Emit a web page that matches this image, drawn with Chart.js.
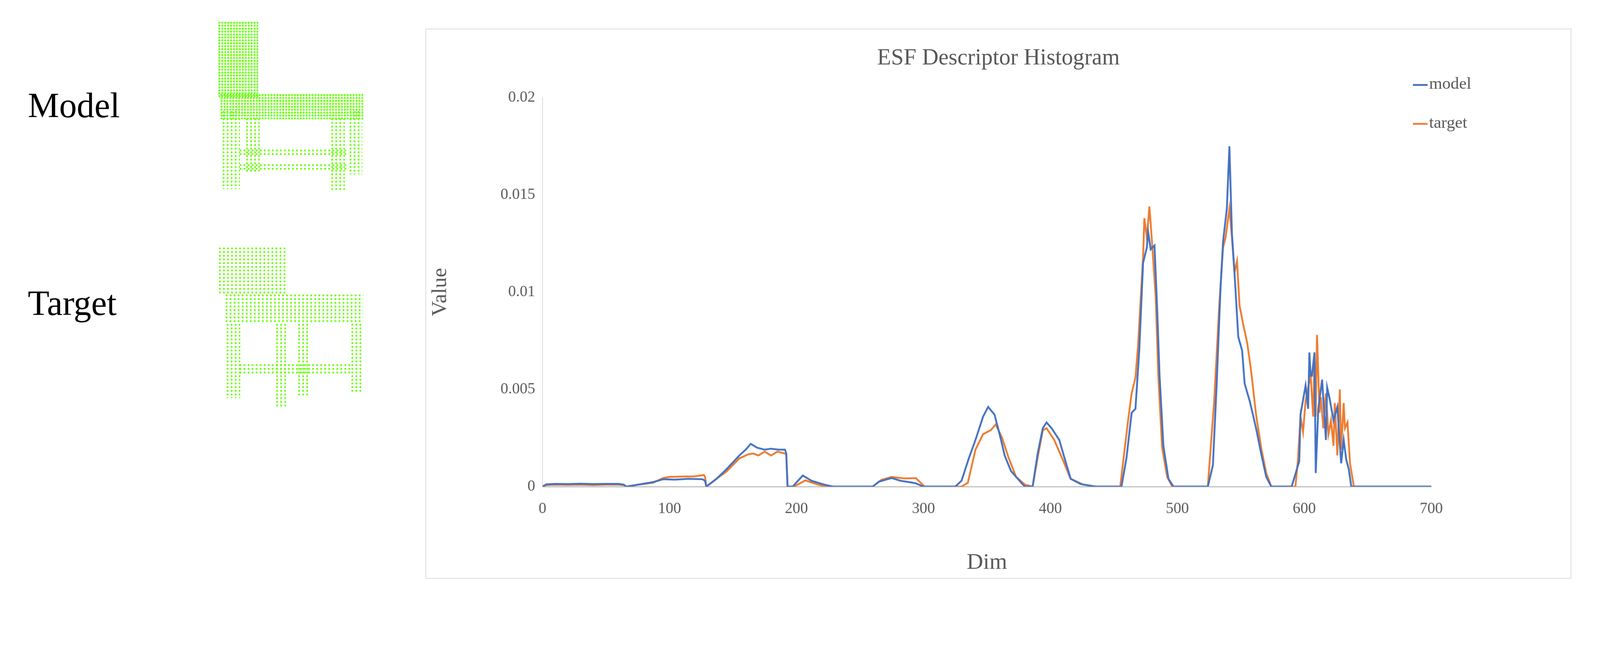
<!DOCTYPE html>
<html><head><meta charset="utf-8">
<script src="https://cdn.jsdelivr.net/npm/chart.js@4"></script>
<style>
html,body{margin:0;padding:0;background:#fff;overflow:hidden;}
#wrap{position:absolute;left:0;top:0;width:4362px;height:1676px;transform-origin:0 0;font-family:"Liberation Serif",serif;}
.lbl{position:absolute;font-size:96px;color:#000;}
.pc{position:absolute;background:radial-gradient(circle,#66ff00 2.4px,transparent 3.2px) 0 0/8px 8px;}
.pc2{position:absolute;background:radial-gradient(circle,#66ff00 2.2px,transparent 3px) 0 0/11px 10px;}
#box{position:absolute;left:1160px;top:78px;width:3124px;height:1499px;border:2px solid #d9d9d9;box-sizing:border-box;}
#title{position:absolute;left:0;width:100%;top:40px;text-align:center;font-size:62px;color:#595959;}
.leg{position:absolute;font-size:46px;color:#595959;}
.leg span{display:inline-block;width:40px;height:5px;vertical-align:middle;margin-right:4px;}
</style></head><body>
<div id="wrap">
<div class="lbl" style="left:76px;top:232px;">Model</div>
<div class="lbl" style="left:76px;top:770px;">Target</div>
<div class="pc" style="left:594px;top:58px;width:110px;height:210px"></div>
<div class="pc" style="left:600px;top:255px;width:390px;height:70px"></div>
<div class="pc2" style="left:604px;top:300px;width:50px;height:215px"></div>
<div class="pc2" style="left:668px;top:320px;width:40px;height:150px"></div>
<div class="pc2" style="left:900px;top:320px;width:40px;height:200px"></div>
<div class="pc2" style="left:950px;top:300px;width:38px;height:175px"></div>
<div class="pc2" style="left:650px;top:405px;width:300px;height:18px"></div>
<div class="pc2" style="left:650px;top:445px;width:300px;height:22px"></div>
<div class="pc2" style="left:594px;top:672px;width:190px;height:130px"></div>
<div class="pc2" style="left:612px;top:800px;width:378px;height:80px"></div>
<div class="pc2" style="left:615px;top:880px;width:40px;height:205px"></div>
<div class="pc2" style="left:750px;top:880px;width:30px;height:230px"></div>
<div class="pc2" style="left:810px;top:880px;width:30px;height:200px"></div>
<div class="pc2" style="left:955px;top:880px;width:35px;height:190px"></div>
<div class="pc2" style="left:650px;top:990px;width:310px;height:30px"></div>
<div id="box">
<div id="title">ESF Descriptor Histogram</div>
<div class="leg" style="left:2690px;top:120px;"><span style="background:#4472C4"></span>model</div>
<div class="leg" style="left:2690px;top:226px;"><span style="background:#ED7D31"></span>target</div>
<canvas id="c" width="3120" height="1495" style="position:absolute;left:0;top:0;width:3120px;height:1495px"></canvas>
</div>
</div>
<script>
const xTicks=[0,100,200,300,400,500,600,700];
const yTicks=[0,0.005,0.01,0.015,0.02];
const modelDims=[0,3,10,20,30,40,50,60,64,66,75,87,95,104,115,126,128,129,137,145,155,160,164,169,175,180,186,191,192,193,197,205,212,222,229,260,265,275,282,289,294,300,325,330,336,341,347,351,356,360,364,369,377,380,386,390,394,397,401,407,411,416,424,436,456,460,464,467,470,473,476,477,479,482,484,486,489,493,497,524,528,531,534,536,539,541,543,545,548,551,553,557,562,566,570,574,590,596,597,601,603,604,605,606,608,609,611,614,617,618,620,623,626,629,631,633,635,637,700];
const modelVals=[0,0.00012,0.00014,0.00013,0.00015,0.00013,0.00014,0.00014,0.0001,0,0.0001,0.00023,0.00038,0.00036,0.0004,0.00038,0.0003,0,0.0004,0.0009,0.0016,0.0019,0.0022,0.002,0.0019,0.00195,0.0019,0.0019,0.0017,0,0,0.00057,0.0003,0.0001,0,0,0.00026,0.00044,0.0003,0.00023,0.00017,0,0,0.0003,0.0015,0.0024,0.0036,0.0041,0.0037,0.0027,0.0016,0.0008,0.0002,0,0,0.0017,0.003,0.0033,0.003,0.0024,0.0015,0.0004,0.00013,0,0,0.0015,0.0038,0.004,0.007,0.0115,0.0123,0.0131,0.0122,0.0124,0.0093,0.0057,0.0021,0.0004,0,0,0.0011,0.0053,0.0102,0.0126,0.0143,0.0175,0.013,0.011,0.0077,0.007,0.0053,0.0044,0.003,0.0017,0.0005,0,0,0.0013,0.0037,0.0052,0.004,0.0069,0.0057,0.0057,0.0069,0.0007,0.004,0.0055,0.0024,0.0051,0.0045,0.0034,0.0041,0.0012,0.0024,0.0014,0.0009,0,0];
const targetDims=[0,3,10,20,30,40,50,60,64,66,75,87,95,100,110,120,127,128,129,137,145,155,162,166,170,175,180,185,191,192,193,198,207,217,224,260,267,275,285,294,301,330,335,341,347,353,357,362,367,373,380,386,390,394,397,403,409,416,426,436,455,461,464,467,469,473,474,476,478,480,483,485,488,492,496,524,529,533,536,538,541,543,545,547,549,552,555,558,562,566,570,574,593,595,597,599,601,603,605,607,608,609,610,612,613,615,617,619,621,623,624,626,628,629,631,632,634,636,639,700];
const targetVals=[0,0.00008,0.0001,0.00009,0.0001,0.00008,0.0001,0.0001,0.00008,0,0.0001,0.0002,0.00044,0.0005,0.00052,0.00053,0.0006,0.0005,0,0.0004,0.00078,0.00145,0.00166,0.0017,0.0016,0.0018,0.0016,0.0018,0.0017,0.0017,0,0,0.00032,0.0001,0,0,0.00035,0.0005,0.00042,0.00044,0,0,0.0002,0.0019,0.0027,0.0029,0.0032,0.0025,0.0015,0.0005,0.0001,0,0.0015,0.0029,0.003,0.0024,0.0015,0.0004,0.0001,0,0,0.0033,0.0048,0.0056,0.0072,0.0118,0.0138,0.0128,0.0144,0.0126,0.0097,0.0057,0.002,0.0005,0,0,0.0044,0.0093,0.0123,0.0128,0.0143,0.0128,0.011,0.0116,0.0093,0.0083,0.0074,0.006,0.0037,0.002,0.0007,0,0,0.0014,0.0036,0.0028,0.0044,0.0051,0.0057,0.0036,0.0067,0.0036,0.0078,0.0038,0.0046,0.003,0.0048,0.0027,0.0034,0.0021,0.0043,0.0016,0.005,0.0019,0.0043,0.003,0.0033,0.0012,0,0];
const wrap=document.getElementById('wrap');
const sc=Math.min(window.innerWidth/4362,window.innerHeight/1676);
wrap.style.transform='scale('+sc+')';
const toPts=(d,v)=>d.map((x,i)=>({x:x,y:v[i]}));
const F='"Liberation Serif", serif';
new Chart(document.getElementById('c'),{
 type:'line',
 data:{datasets:[
  {label:'model',data:toPts(modelDims,modelVals),borderColor:'#4472C4',borderWidth:5,pointRadius:0,tension:0},
  {label:'target',data:toPts(targetDims,targetVals),borderColor:'#ED7D31',borderWidth:5,pointRadius:0,tension:0}
 ]},
 options:{responsive:false,animation:false,devicePixelRatio:1,
  layout:{padding:{top:186,right:380,left:0,bottom:0}},
  plugins:{legend:{display:false},title:{display:false},tooltip:{enabled:false}},
  scales:{
   x:{type:'linear',min:0,max:700,afterBuildTicks:a=>{a.ticks=xTicks.map(v=>({value:v}));},
      afterFit:s=>{s.height=249;},
      grid:{display:false,drawTicks:false},border:{color:'#bfbfbf',width:3},
      ticks:{font:{family:F,size:42},color:'#595959',padding:36},
      title:{display:true,text:'Dim',font:{family:F,size:62},color:'#595959',padding:{top:20}}},
   y:{min:0,max:0.02,afterBuildTicks:a=>{a.ticks=yTicks.map(v=>({value:v}));},
      afterFit:s=>{s.width=317;},
      grid:{display:false,drawTicks:false},border:{color:'#d9d9d9',width:2},
      ticks:{font:{family:F,size:42},color:'#595959',padding:20,callback:v=>String(v)},
      title:{display:true,text:'Value',font:{family:F,size:58},color:'#595959',padding:{bottom:0}}}
  }}
});
</script></body></html>
